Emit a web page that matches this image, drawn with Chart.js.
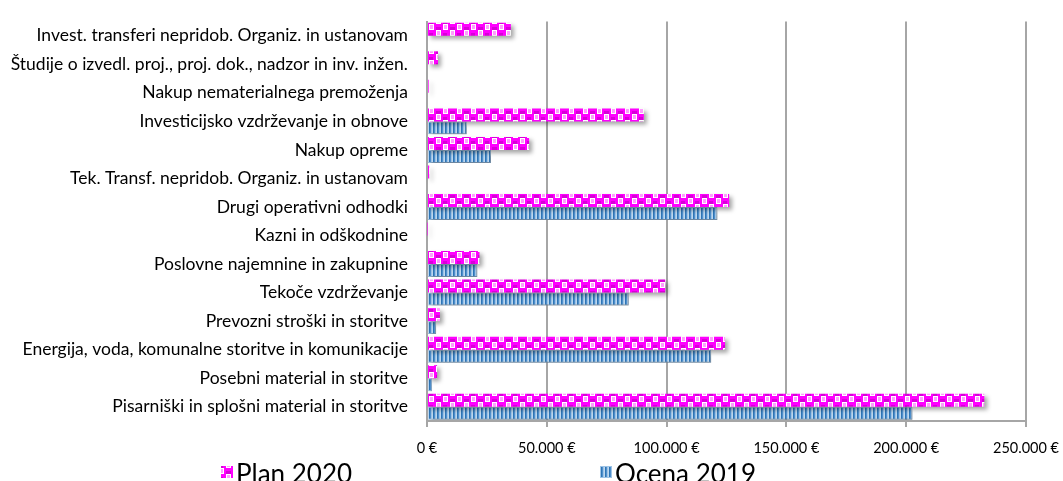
<!DOCTYPE html>
<html>
<head>
<meta charset="utf-8">
<script src="https://cdn.jsdelivr.net/npm/chart.js@4"></script>
<style>
  html, body { margin: 0; padding: 0; background: #ffffff; }
  #wrap { width: 1063px; height: 481px; position: relative; }
</style>
</head>
<body>
<div id="wrap"><canvas id="c" width="1063" height="481"></canvas></div>
<script>
// ---- data ----
const categories = [
  "Invest. transferi nepridob. Organiz. in ustanovam",
  "Študije o izvedl. proj., proj. dok., nadzor in inv. inžen.",
  "Nakup nematerialnega premoženja",
  "Investicijsko vzdrževanje in obnove",
  "Nakup opreme",
  "Tek. Transf. nepridob. Organiz. in ustanovam",
  "Drugi operativni odhodki",
  "Kazni in odškodnine",
  "Poslovne najemnine in zakupnine",
  "Tekoče vzdrževanje",
  "Prevozni stroški in storitve",
  "Energija, voda, komunalne storitve in komunikacije",
  "Posebni material in storitve",
  "Pisarniški in splošni material in storitve"
];
const plan2020 = [35000, 4600, 700, 90500, 42600, 900, 126100, 200, 21900, 99400, 5400, 124400, 4200, 232600];
const ocena2019 = [0, 0, 0, 16600, 26700, 0, 121200, 0, 21000, 84200, 3800, 118600, 2100, 202600];
const seriesNames = ["Plan 2020", "Ocena 2019"];
const xTickValues = [0, 50000, 100000, 150000, 200000, 250000];

// ---- patterns ----
function planPattern() {
  const c = document.createElement('canvas');
  c.width = 14; c.height = 12;
  const g = c.getContext('2d');
  g.fillStyle = '#ffffff'; g.fillRect(0, 0, 14, 12);
  g.fillStyle = '#ff00ff';
  g.fillRect(0, 0, 9, 6);
  g.fillRect(7, 6, 7, 6);
  g.fillRect(0, 6, 2, 6);
  g.fillStyle = '#ff9cff';
  g.fillRect(10, 1, 3, 4);
  g.fillRect(3, 7, 3, 4);
  g.fillStyle = '#d800d8';
  g.fillRect(2, 3, 5, 3);
  g.fillRect(9, 9, 4, 3);
  return g.createPattern(c, 'repeat');
}
function ocenaPattern() {
  const c = document.createElement('canvas');
  c.width = 4; c.height = 4;
  const g = c.getContext('2d');
  const cols = ['#bdd7ee', '#2e75b6', '#4f8fcb', '#9dc3e6'];
  for (let i = 0; i < 4; i++) { g.fillStyle = cols[i]; g.fillRect(i, 0, 1, 4); }
  return g.createPattern(c, 'repeat');
}
const pPlan = planPattern();
const pOcena = ocenaPattern();

function fmtEuro(v) {
  const s = Math.round(v).toString().replace(/\B(?=(\d{3})+(?!\d))/g, '.');
  return s + ' €';
}

const FONT = 'Lato, "Open Sans", "Noto Sans", sans-serif';

const shadowPlugin = {
  id: 'shadow',
  beforeDatasetsDraw(chart) {
    const ctx = chart.ctx;
    ctx.save();
    ctx.shadowColor = 'rgba(0,0,0,0.35)';
    ctx.shadowBlur = 4;
    ctx.shadowOffsetX = 3;
    ctx.shadowOffsetY = 3;
  },
  afterDatasetsDraw(chart) { chart.ctx.restore(); }
};

const legendPlugin = {
  id: 'customLegend',
  afterDraw(chart) {
    const ctx = chart.ctx;
    ctx.save();
    const items = [
      { x: 221, fill: pPlan, stroke: null, text: seriesNames[0] },
      { x: 600, fill: pOcena, stroke: '#9dc3e6', text: seriesNames[1] }
    ];
    const y = 472;
    ctx.font = '26px ' + FONT;
    ctx.textBaseline = 'middle';
    items.forEach(it => {
      ctx.fillStyle = it.fill;
      ctx.fillRect(it.x, y - 6, 12, 12);
      if (it.stroke) { ctx.strokeStyle = it.stroke; ctx.lineWidth = 1; ctx.strokeRect(it.x + 0.5, y - 5.5, 11, 11); }
      ctx.fillStyle = '#000';
      ctx.fillText(it.text, it.x + 15, y + 3);
    });
    ctx.restore();
  }
};

new Chart(document.getElementById('c'), {
  type: 'bar',
  data: {
    labels: categories,
    datasets: [
      { label: seriesNames[0], data: plan2020, backgroundColor: pPlan, borderWidth: 0, clip: false },
      { label: seriesNames[1], data: ocena2019, backgroundColor: pOcena, borderColor: '#9dc3e6', borderWidth: 1, clip: false }
    ]
  },
  options: {
    indexAxis: 'y',
    responsive: false,
    animation: false,
    devicePixelRatio: 1,
    layout: { padding: { top: 10, right: 0, bottom: 0, left: 0 } },
    datasets: { bar: { categoryPercentage: 0.91, barPercentage: 1.0 } },
    plugins: { legend: { display: false }, tooltip: { enabled: false } },
    scales: {
      x: {
        min: 0, max: 250000,
        afterBuildTicks(scale) { scale.ticks = xTickValues.map(v => ({ value: v })); },
        afterFit(scale) { scale.height = 60; scale.paddingRight = 37; scale.paddingLeft = 0; },
        grid: { color: '#a6a6a6', lineWidth: 2, drawTicks: true, tickLength: 6, tickColor: '#a6a6a6' },
        border: { display: true, color: '#a6a6a6', width: 2 },
        ticks: {
          padding: 13,
          color: '#000',
          font: { family: FONT, size: 14.5 },
          maxRotation: 0,
          callback: v => fmtEuro(v)
        }
      },
      y: {
        afterFit(scale) { scale.width = 427; },
        grid: { display: false },
        border: { display: true, color: '#a6a6a6', width: 2 },
        ticks: {
          padding: 11,
          color: '#000',
          autoSkip: false,
          font: { family: FONT, size: 17.5 }
        }
      }
    }
  },
  plugins: [shadowPlugin, legendPlugin]
});
</script>
</body>
</html>
